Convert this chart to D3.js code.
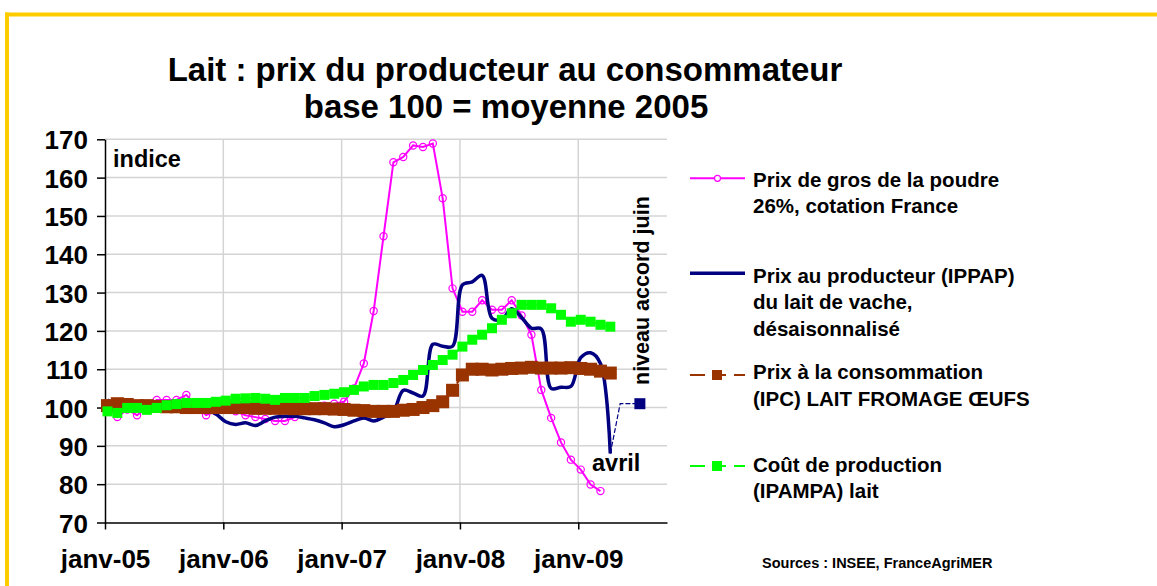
<!DOCTYPE html>
<html>
<head>
<meta charset="utf-8">
<script src="https://cdn.jsdelivr.net/npm/d3@7"></script>
<style>
  body { margin: 0; background: #fff; }
  text { font-family: "Liberation Sans", Arial, sans-serif; font-weight: bold; fill: #000; }
</style>
</head>
<body>
<div id="chart"></div>
<script>
// ---- data (month index 0 = janv-05) ----
const tickMonths = [0, 12, 24, 36, 48];
const tickLabels = ["janv-05", "janv-06", "janv-07", "janv-08", "janv-09"];
const yTicks = [70, 80, 90, 100, 110, 120, 130, 140, 150, 160, 170];

// Prix de gros de la poudre 26%, janv-05 .. mars-09
const poudre = [
  100, 97.5, 99.5, 98, 100, 102, 102, 102, 103.3, 100.5, 98, 99,
  99.5, 99, 98, 97.5, 97, 96.5, 96.5, 97.5, 99.5, 100, 100.5, 101,
  101.5, 105, 111.5, 125.2, 144.7, 164, 165.4, 168.4, 168, 168.9, 154.6, 131.1,
  125, 125, 128, 125.5, 125.5, 128, 124, 119, 104.6, 97.3, 90.9, 86.4,
  83.8, 79.9, 78.2
];
// Prix au producteur (IPPAP), janv-05 .. avril-09
const ippap = [
  102, 100.3, 100, 100, 100.3, 100, 100, 100, 100, 100, 99.5, 98.3,
  96.3, 95.6, 96, 95.3, 96.5, 97.5, 97.7, 97.7, 97.3, 96.8, 96, 95,
  95.5, 96.5, 97.3, 96.5, 97.5, 99, 104.5, 103.8, 103, 116.5, 116, 116,
  132, 132.8, 134.5, 123.3, 123, 125.8, 123.5, 120.7, 120.5, 105, 105.3, 105.5,
  113, 114.3, 111.5, 88
];
// niveau accord juin, avril-09 .. juil-09
const accordStart = 51;
const accord = [88, 101, 101, 101];
// Prix à la consommation (IPC), janv-05 .. avril-09
const ipc = [
  100.5, 101, 100.8, 100.5, 100.5, 100.3, 100.2, 100.2, 100, 100, 100, 100,
  100, 100, 100, 99.8, 99.8, 99.8, 99.8, 99.7, 99.7, 99.7, 99.7, 99.6,
  99.5, 99.3, 99.2, 99, 99, 99, 99.3, 99.5, 100, 100.5, 101.5, 104.5,
  108.5, 110, 110, 109.8, 110, 110.2, 110.3, 110.5, 110.3, 110.3, 110.3, 110.4,
  110.2, 110, 109.5, 109
];
// Coût de production (IPAMPA), janv-05 .. avril-09
const ipampa = [
  99, 98.6, 99.9, 99.9, 99.4, 99.9, 100.6, 100.9, 101.2, 101.2, 101.2, 101.5,
  101.8, 102.3, 102.4, 102.5, 102.3, 102, 102.5, 102.5, 102.5, 103, 103.3, 103.6,
  104, 104.6, 105.5, 105.9, 105.9, 106.4, 107.2, 108.5, 109.8, 111.1, 112.4, 113.8,
  115.9, 117.7, 119, 120.7, 122.9, 124.6, 126.8, 126.8, 126.8, 125.9, 124.2, 122.4,
  122.9, 122.4, 121.6, 121.1
];

const colors = { poudre: "#ff00ff", ippap: "#000080", ipc: "#993300", ipampa: "#00ff00" };

const width = 1157, height = 586;
const svg = d3.select("#chart").append("svg")
  .attr("width", width).attr("height", height);

// yellow frame
svg.append("line").attr("x1", 5).attr("x2", width).attr("y1", 14.5).attr("y2", 14.5)
  .attr("stroke", "#ffcc00").attr("stroke-width", 4);
svg.append("line").attr("x1", 7).attr("x2", 7).attr("y1", 12.5).attr("y2", height)
  .attr("stroke", "#ffcc00").attr("stroke-width", 4);

// title
svg.append("text").attr("x", 505).attr("y", 81).attr("text-anchor", "middle")
  .style("font-size", "33px").text("Lait : prix du producteur au consommateur");
svg.append("text").attr("x", 506).attr("y", 118).attr("text-anchor", "middle")
  .style("font-size", "33px").text("base 100 = moyenne 2005");

// scales
const x = d3.scaleLinear().domain([0, 57]).range([105, 667]);
const y = d3.scaleLinear().domain([70, 170]).range([522.5, 139.3]);
const px = i => x(i + 0.25);

// grid
svg.append("g").selectAll("line").data(yTicks.slice(1)).enter().append("line")
  .attr("x1", x(0)).attr("x2", x(57)).attr("y1", d => y(d)).attr("y2", d => y(d))
  .attr("stroke", "#d4d4d4").attr("stroke-width", 1.5);
svg.append("g").selectAll("line").data(tickMonths.slice(1)).enter().append("line")
  .attr("x1", d => x(d)).attr("x2", d => x(d)).attr("y1", y(70)).attr("y2", y(170))
  .attr("stroke", "#d4d4d4").attr("stroke-width", 1.5);

// axes
const yAxis = svg.append("g").attr("transform", `translate(${x(0)},0)`)
  .call(d3.axisLeft(y).tickValues(yTicks).tickSize(8).tickSizeOuter(0).tickPadding(9));
yAxis.selectAll("text").style("font-size", "26px").attr("dy", "0.37em");
const xAxis = svg.append("g").attr("transform", `translate(0,${y(70)})`)
  .call(d3.axisBottom(x).tickValues(tickMonths).tickFormat((d, i) => tickLabels[i])
    .tickSize(7).tickSizeOuter(0).tickPadding(20));
xAxis.selectAll("text").style("font-size", "26px");
svg.selectAll(".domain, .tick line").attr("stroke", "#000").attr("stroke-width", 1.5);

// series
const straight = d3.line().x((d, i) => px(i)).y(d => y(d));

// poudre
svg.append("path").datum(poudre).attr("d", straight)
  .attr("fill", "none").attr("stroke", colors.poudre).attr("stroke-width", 2);
svg.append("g").selectAll("circle").data(poudre).enter().append("circle")
  .attr("cx", (d, i) => px(i)).attr("cy", d => y(d)).attr("r", 3.6)
  .attr("fill", "none").attr("stroke", colors.poudre).attr("stroke-width", 1.2);

// ippap
svg.append("path").datum(ippap)
  .attr("d", d3.line().x((d, i) => px(i)).y(d => y(d)).curve(d3.curveCatmullRom.alpha(0.5)))
  .attr("fill", "none").attr("stroke", colors.ippap).attr("stroke-width", 3.5)
  .attr("stroke-linejoin", "round");

// accord juin
svg.append("path").datum(accord)
  .attr("d", d3.line().x((d, i) => px(accordStart + i)).y(d => y(d)))
  .attr("fill", "none").attr("stroke", colors.ippap).attr("stroke-width", 1.2)
  .attr("stroke-dasharray", "5,2");
svg.append("rect")
  .attr("x", px(accordStart + accord.length - 1) - 5.5)
  .attr("y", y(accord[accord.length - 1]) - 5.5)
  .attr("width", 11).attr("height", 11).attr("fill", colors.ippap);

// ipc
svg.append("path").datum(ipc).attr("d", straight)
  .attr("fill", "none").attr("stroke", colors.ipc).attr("stroke-width", 2)
  .attr("stroke-dasharray", "8,4");
svg.append("g").selectAll("rect").data(ipc).enter().append("rect")
  .attr("x", (d, i) => px(i) - 6.5).attr("y", d => y(d) - 6.5)
  .attr("width", 13).attr("height", 13).attr("fill", colors.ipc);

// ipampa
svg.append("path").datum(ipampa).attr("d", straight)
  .attr("fill", "none").attr("stroke", colors.ipampa).attr("stroke-width", 2)
  .attr("stroke-dasharray", "8,4");
svg.append("g").selectAll("rect").data(ipampa).enter().append("rect")
  .attr("x", (d, i) => px(i) - 5).attr("y", d => y(d) - 5)
  .attr("width", 10).attr("height", 10).attr("fill", colors.ipampa);

// annotations
svg.append("text").attr("x", 113).attr("y", 167).style("font-size", "23.5px").text("indice");
svg.append("text").attr("x", 592).attr("y", 471).style("font-size", "23.5px").text("avril");
svg.append("text").attr("transform", "translate(649,385) rotate(-90)")
  .style("font-size", "21.5px").text("niveau accord juin");
svg.append("text").attr("x", 762).attr("y", 568).style("font-size", "14.5px")
  .text("Sources : INSEE, FranceAgriMER");

// legend
const legend = [
  { key: "poudre", ly: 178.3, base: [186.7, 213.3], lines: ["Prix de gros de la poudre", "26%, cotation France"] },
  { key: "ippap", ly: 273.3, base: [282.7, 309, 335.5], lines: ["Prix au producteur (IPPAP)", "du lait de vache,", "désaisonnalisé"] },
  { key: "ipc", ly: 375, base: [379, 405.5], lines: ["Prix à la consommation", "(IPC) LAIT FROMAGE ŒUFS"] },
  { key: "ipampa", ly: 466, base: [471.5, 498], lines: ["Coût de production", "(IPAMPA) lait"] }
];
legend.forEach(e => {
  const g = svg.append("g");
  const c = colors[e.key];
  if (e.key === "poudre" || e.key === "ippap") {
    g.append("line").attr("x1", 690).attr("x2", 745).attr("y1", e.ly).attr("y2", e.ly)
      .attr("stroke", c).attr("stroke-width", e.key === "ippap" ? 3.5 : 2);
    if (e.key === "poudre") {
      g.append("circle").attr("cx", 717.5).attr("cy", e.ly).attr("r", 3)
        .attr("fill", "#fff").attr("stroke", c).attr("stroke-width", 1.2);
    }
  } else {
    g.append("line").attr("x1", 690).attr("x2", 705).attr("y1", e.ly).attr("y2", e.ly)
      .attr("stroke", c).attr("stroke-width", 2);
    g.append("line").attr("x1", 712).attr("x2", 726).attr("y1", e.ly).attr("y2", e.ly)
      .attr("stroke", c).attr("stroke-width", 2);
    g.append("rect").attr("x", 712).attr("y", e.ly - 5).attr("width", 10).attr("height", 10)
      .attr("fill", c);
    g.append("line").attr("x1", 734).attr("x2", 745).attr("y1", e.ly).attr("y2", e.ly)
      .attr("stroke", c).attr("stroke-width", 2);
  }
  e.lines.forEach((t, i) => {
    g.append("text").attr("x", 753).attr("y", e.base[i]).style("font-size", "20.5px").text(t);
  });
});
</script>
</body>
</html>
